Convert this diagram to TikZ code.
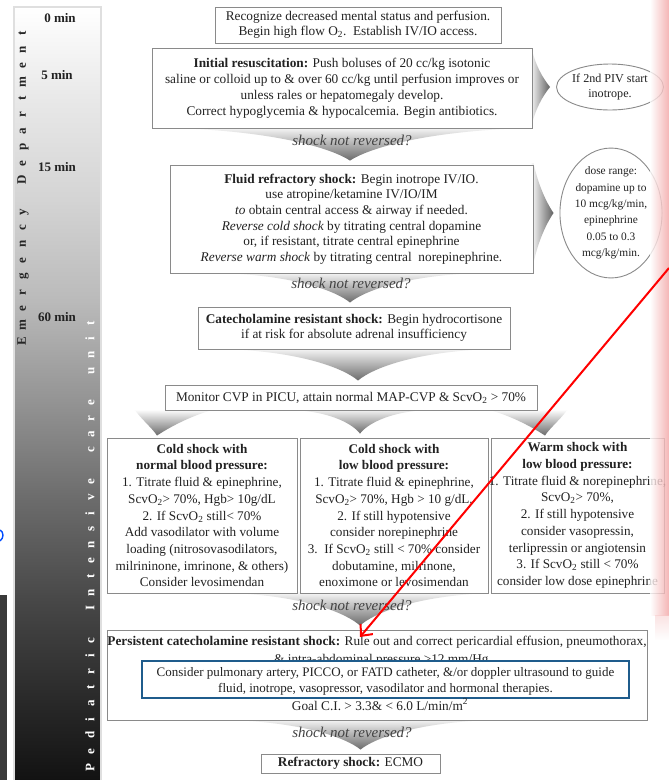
\documentclass[tikz,border=0pt]{standalone}
\usepackage{fontspec}
\setmainfont{Liberation Serif}
\usetikzlibrary{calc,shapes.geometric,arrows.meta}
\pgfdeclarelayer{bgl}
\pgfdeclarelayer{chevs}
\pgfsetlayers{bgl,chevs,main}
\definecolor{txt}{HTML}{222222}
\definecolor{boxline}{HTML}{8A8A8A}
\definecolor{bluebox}{HTML}{1F5C8C}
\definecolor{pinkish}{HTML}{F2A3A3}
\definecolor{darkstrip}{HTML}{3A3A3A}
\pgfdeclareverticalshading{edbar}{100bp}{color(0bp)=(black!93); color(25bp)=(black!93); color(30.15bp)=(black!84); color(36.65bp)=(black!72); color(43.1bp)=(black!58); color(49.6bp)=(black!42); color(56.05bp)=(black!27); color(62.5bp)=(black!17); color(69bp)=(black!9); color(75bp)=(white); color(100bp)=(white)}
\newcommand\spreadchars[1]{\ifx#1\relax\else\makebox[\charpitch]{#1}\expandafter\spreadchars\fi}
\newlength\charpitch
\newcommand\chevdn[4]{%
 \path[chevdn] let \p1=(#1.south), \p2=(#2.north), \n1={\y1-\y2-4} in
  ({\x2+(#4)-#3},{\y1+3pt}) -- ({\x2+(#4)-#3},{\y1})
  .. controls ({\x2+(#4)-0.45*#3},{\y1-0.12*\n1}) and ({\x2+(#4)-0.12*#3},{\y2+4pt+0.4*\n1}) .. ({\x2+(#4)},{\y2+4pt})
  .. controls ({\x2+(#4)+0.12*#3},{\y2+4pt+0.4*\n1}) and ({\x2+(#4)+0.45*#3},{\y1-0.12*\n1}) .. ({\x2+(#4)+#3},{\y1})
  -- ({\x2+(#4)+#3},{\y1+3pt}) -- cycle;}
\newcommand\chevrt[3]{%
 \path[chevrt] let \p1=(#1.east), \p2=(#2.west), \n1={\x2-\x1-6} in
  ({\x1-3pt},{\y2+#3}) -- ({\x1},{\y2+#3})
  .. controls ({\x1+0.3*\n1},{\y2+0.45*#3}) and ({\x1+0.8*\n1},{\y2+0.12*#3}) .. ({\x2-6pt},{\y2})
  .. controls ({\x1+0.8*\n1},{\y2-0.12*#3}) and ({\x1+0.3*\n1},{\y2-0.45*#3}) .. ({\x1},{\y2-#3})
  -- ({\x1-3pt},{\y2-#3}) -- cycle;}
\tikzset{
 box/.style={draw=boxline, line width=0.9pt, fill=white, inner sep=0pt},
 btxt/.style={inner sep=0pt, align=center, text=txt, font=\fontsize{13.3}{15.6}\selectfont},
 ctxt/.style={inner sep=0pt, align=center, text=txt, font=\fontsize{13.2}{16.7}\selectfont},
 snr/.style={inner sep=0pt, text=txt!85, font=\fontsize{15}{17}\selectfont\itshape},
 tlab/.style={inner sep=0pt, text=txt, font=\fontsize{13}{15}\selectfont\bfseries},
 oval/.style={ellipse, draw=boxline, line width=0.9pt, fill=white, inner sep=0pt, align=center, text=txt},
 chevdn/.style={top color=white, bottom color=black!58, draw=none},
 chevrt/.style={left color=white, right color=black!62, draw=none},
}
\begin{document}
\begin{tikzpicture}[x=1pt,y=-1pt]
\useasboundingbox (0,0) rectangle (669,780);
\begin{pgfonlayer}{bgl}
\fill[white] (0,0) rectangle (669,780);
\end{pgfonlayer}
% left strip artifacts
\fill[darkstrip] (0,595) rectangle (7,780);
\draw[color=blue!70!cyan, line width=1.4pt] (0,530) .. controls (4,532) and (4,538) .. (0,541);
% time bar
\path[shading=edbar, draw=gray!25, line width=1.5pt] (14,7) rectangle (101,781);
\setlength\charpitch{16.2pt}
\node[rotate=90, inner sep=0pt, text=black!85, font=\fontsize{13}{15}\selectfont\bfseries] (ed) at (23,187.5) {\spreadchars Emergency~Department\relax};
\setlength\charpitch{15.86pt}
\node[rotate=90, inner sep=0pt, text=white, font=\fontsize{13}{15}\selectfont\bfseries] (picu) at (90,545) {\spreadchars Pediatric~Intensive~care~unit\relax};
\node[tlab] (t0) at (60,18) {0 min};
\node[tlab] (t5) at (57,75) {5 min};
\node[tlab] (t15) at (57,167) {15 min};
\node[tlab] (t60) at (57,317) {60 min};
% boxes
\node[box, minimum width=286pt, minimum height=36pt] (b1) at (358,25) {};
\node[btxt, font=\fontsize{13.3}{15}\selectfont] (b1t) at (b1) {Recognize decreased mental status and perfusion.\\Begin high flow O\textsubscript{2}.\ \ Establish IV/IO access.};
\node[box, minimum width=380pt, minimum height=80pt] (b2) at (342,88) {};
\node[btxt, font=\fontsize{13.3}{16}\selectfont] (b2t) at (b2) {\textbf{Initial resuscitation:} Push boluses of 20 cc/kg isotonic\\saline or colloid up to \& over 60 cc/kg until perfusion improves or\\unless rales or hepatomegaly develop.\\Correct hypoglycemia \& hypocalcemia. Begin antibiotics.};
\node[oval, minimum width=96pt, minimum height=46pt, font=\fontsize{12.1}{15}\selectfont] (e1) at (610,87) {If 2nd PIV start\\inotrope.};
\node[box, minimum width=363pt, minimum height=108pt] (b3) at (351.5,219) {};
\node[btxt] (b3t) at (b3) {\textbf{Fluid refractory shock:} Begin inotrope IV/IO.\\use atropine/ketamine IV/IO/IM\\\textit{to} obtain central access \& airway if needed.\\\textit{Reverse cold shock} by titrating central dopamine\\or, if resistant, titrate central epinephrine\\\textit{Reverse warm shock} by titrating central\ \ norepinephrine.};
\node[oval, minimum width=94pt, minimum height=106pt, font=\fontsize{11.4}{16.3}\selectfont] (e2) at (611,213) {dose range:\\dopamine up to\\10 mcg/kg/min,\\epinephrine\\0.05 to 0.3\\mcg/kg/min.};
\node[box, minimum width=312pt, minimum height=42pt] (b4) at (354,328) {};
\node[btxt, font=\fontsize{13.3}{15}\selectfont] (b4t) at (b4) {\textbf{Catecholamine resistant shock:} Begin hydrocortisone\\if at risk for absolute adrenal insufficiency};
\node[box, minimum width=372pt, minimum height=25pt] (b5) at (351,397.5) {};
\node[btxt] (b5t) at (b5) {Monitor CVP in PICU, attain normal MAP-CVP \& ScvO\textsubscript{2} > 70\%};
\node[box, minimum width=190pt, minimum height=155pt] (bl) at (202,515.5) {};
\node[ctxt] (blt) at (bl) {\textbf{Cold shock with}\\\textbf{normal blood pressure:}\\1. Titrate fluid \& epinephrine,\\ScvO\textsubscript{2}> 70\%, Hgb> 10g/dL\\2. If ScvO\textsubscript{2} still< 70\%\\Add vasodilator with volume\\loading (nitrosovasodilators,\\milrininone, imrinone, \& others)\\Consider levosimendan};
\node[box, minimum width=188pt, minimum height=155pt] (bm) at (394,515.5) {};
\node[ctxt] (bmt) at (bm) {\textbf{Cold shock with}\\\textbf{low blood pressure:}\\1. Titrate fluid \& epinephrine,\\ScvO\textsubscript{2}> 70\%, Hgb > 10 g/dL.\\2. If still hypotensive\\consider norepinephrine\\3.\ \ If ScvO\textsubscript{2} still < 70\% consider\\dobutamine, milrinone,\\enoximone or levosimendan};
\node[box, minimum width=173pt, minimum height=155pt] (br) at (577.5,515.5) {};
\node[ctxt] (brt) at (br) {\textbf{Warm shock with}\\\textbf{low blood pressure:}\\1. Titrate fluid \& norepinephrine,\\ScvO\textsubscript{2}> 70\%,\\2. If still hypotensive\\consider vasopressin,\\terlipressin or angiotensin\\3. If ScvO\textsubscript{2} still < 70\%\\consider low dose epinephrine};
\node[box, minimum width=540pt, minimum height=90pt] (b7) at (377,675) {};
\node[btxt, anchor=base] (b7a) at (377,645) {\textbf{Persistent catecholamine resistant shock:} Rule out and correct pericardial effusion, pneumothorax,};
\node[btxt, anchor=base] (b7b) at (383,663) {\& intra-abdominal pressure >12 mm/Hg.};
\node[draw=bluebox, line width=2.6pt, fill=white, minimum width=487pt, minimum height=37pt, inner sep=0pt] (bb) at (385.5,679.5) {};
\node[btxt, font=\fontsize{13}{16}\selectfont] (bbt) at (385.5,681) {Consider pulmonary artery, PICCO, or FATD catheter, \&/or doppler ultrasound to guide\\fluid, inotrope, vasopressor, vasodilator and hormonal therapies.};
\node[btxt, anchor=base] (b7c) at (380,710) {Goal C.I. > 3.3\& < 6.0 L/min/m\textsuperscript{2}};
\node[box, minimum width=179pt, minimum height=19pt] (b8) at (350.5,763.5) {};
\node[btxt] (b8t) at (b8) {\textbf{Refractory shock:} ECMO};
% chevrons
\begin{pgfonlayer}{chevs}
\chevdn{b2}{b3}{165pt}{-1.5pt}
\chevdn{b3}{b4}{118pt}{-4pt}
\chevdn{b4}{b5}{122pt}{7pt}
\chevdn{b5}{bm}{60pt}{-34pt}
\chevdn{bm}{b7}{120pt}{-17pt}
\chevdn{b7}{b8}{120pt}{10pt}
\chevrt{b2}{e1}{35pt}
\chevrt{b3}{e2}{50pt}
\path[chevdn] ($(b5.south west)+(-30,-1)$) .. controls ($(b5.south west)+(-24,8)$) and ($(b5.south west)+(-12,18)$) .. ($(bl.north)+(-45,-2)$) .. controls ($(bl.north)+(-30,-12)$) and ($(b5.south west)+(30,4)$) .. ($(b5.south west)+(50,-1)$) -- cycle;
\path[chevdn] ($(b5.south east)+(30,-1)$) .. controls ($(b5.south east)+(24,8)$) and ($(b5.south east)+(12,18)$) .. ($(br.north)+(-32.5,-2)$) .. controls ($(br.north)+(-47.5,-12)$) and ($(b5.south east)+(-30,4)$) .. ($(b5.south east)+(-50,-1)$) -- cycle;
\end{pgfonlayer}
\node[snr] (l1) at (352,140) {shock not reversed?};
\node[snr] (l2) at (351,283) {shock not reversed?};
\node[snr] (l3) at (352,605) {shock not reversed?};
\node[snr] (l4) at (352,732) {shock not reversed?};
% pink strip
\path[left color=white, right color=pinkish, fill opacity=0.8] (650,0) rectangle (669,615);
\path[top color=pinkish!60, bottom color=white, fill opacity=0.5] (655,615) rectangle (669,640);
% red pointer
\coordinate (redstart) at (669,268);
\coordinate (redend) at (360,637);
\draw[red, line width=2pt, -{Straight Barb[length=9pt,width=16pt]}] (redstart) -- (redend);
\end{tikzpicture}
\end{document}
